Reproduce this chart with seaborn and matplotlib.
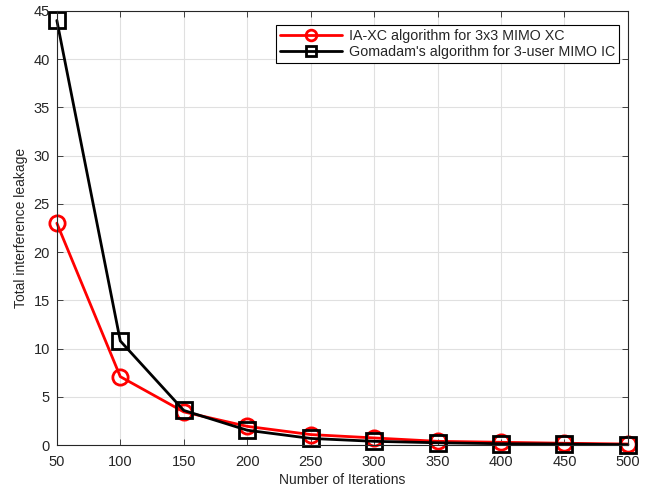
import numpy as np
import pandas as pd
import matplotlib
matplotlib.use("Agg")
import matplotlib.pyplot as plt
import seaborn as sns

iterations = [50, 100, 150, 200, 250, 300, 350, 400, 450, 500]
ia_xc = [23.0, 7.1, 3.45, 1.95, 1.1, 0.75, 0.4, 0.3, 0.2, 0.12]
gomadam = [44.0, 10.8, 3.6, 1.55, 0.7, 0.4, 0.25, 0.15, 0.12, 0.05]

labels = ["IA-XC algorithm for 3x3 MIMO XC", "Gomadam's algorithm for 3-user MIMO IC"]

df = pd.DataFrame({
    "iter": iterations * 2,
    "leak": ia_xc + gomadam,
    "alg": [labels[0]] * len(iterations) + [labels[1]] * len(iterations),
})

sns.set_style("ticks")
plt.rcParams["font.family"] = ["Liberation Sans", "DejaVu Sans"]

fig = plt.figure(figsize=(6.46, 4.93), dpi=100)
ax = fig.add_axes([0.088, 0.097, 0.884, 0.881])

sns.lineplot(data=df, x="iter", y="leak", hue="alg", style="alg",
             palette=["red", "black"], markers=["o", "s"], dashes=False,
             linewidth=2, markersize=11, markerfacecolor="none",
             markeredgewidth=2, ax=ax)
for line, c in zip(ax.get_lines(), ["red", "black"]):
    line.set_markeredgecolor(c)
    line.set_clip_on(False)

ax.set_xlim(50, 500)
ax.set_ylim(0, 45)
ax.set_xticks(range(50, 501, 50))
ax.set_yticks(range(0, 46, 5))
ax.grid(True, color="#e0e0e0", linewidth=0.8)
ax.set_axisbelow(True)
ax.tick_params(direction="in", top=True, right=True, labelsize=10.5, length=4,
               colors="#262626", width=0.6)
ax.tick_params(axis="x", pad=7)
ax.tick_params(axis="y", pad=5)
for s in ax.spines.values():
    s.set_color("#262626")
    s.set_linewidth(0.8)
    s.set_visible(True)

ax.set_xlabel("Number of Iterations", fontsize=10, labelpad=3)
ax.set_ylabel("Total interference leakage", fontsize=10, labelpad=4)

leg = ax.legend(loc="upper right", bbox_to_anchor=(0.985, 0.967), fontsize=10.3,
                fancybox=False, framealpha=1, edgecolor="black",
                handlelength=4.3, borderpad=0.3, labelspacing=0.12,
                handletextpad=0.5, borderaxespad=0, markerscale=0.7)
leg.get_frame().set_linewidth(0.8)
for h, c in zip(leg.get_lines(), ["red", "black"]):
    h.set_markeredgecolor(c)
    h.set_markerfacecolor("none")

fig.savefig("out.png", dpi=100)
